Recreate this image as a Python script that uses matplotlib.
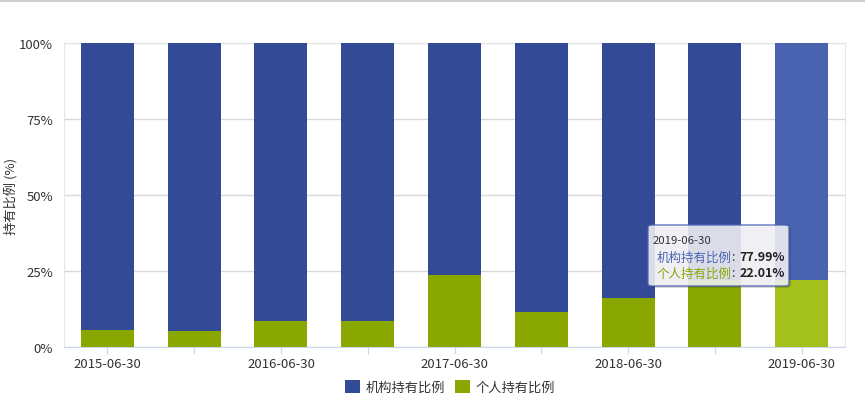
import matplotlib.pyplot as plt
from matplotlib.patches import FancyBboxPatch, Rectangle
import numpy as np

plt.rcParams['font.family'] = ['Noto Sans CJK SC', 'DejaVu Sans']

dates = ['2015-06-30', '2015-12-31', '2016-06-30', '2016-12-31', '2017-06-30',
         '2017-12-31', '2018-06-30', '2018-12-31', '2019-06-30']
personal = [5.6, 5.3, 8.6, 8.6, 23.7, 11.5, 16.1, 22.0, 22.01]
institution = [100 - p for p in personal]
institution[-1] = 77.99

blue = '#334a96'
green = '#8aa700'
blue_hi = '#4a63b0'
green_hi = '#a3c11a'

fig = plt.figure(figsize=(8.65, 4.02), dpi=100)
ax = fig.add_axes([64 / 865, 54 / 402, 781 / 865, 304 / 402])

x = np.arange(len(dates))
gc = [green] * (len(dates) - 1) + [green_hi]
bc = [blue] * (len(dates) - 1) + [blue_hi]
ax.bar(x, personal, width=0.61, color=gc, zorder=3, label='个人持有比例')
ax.bar(x, institution, width=0.61, bottom=personal, color=bc, zorder=3,
       label='机构持有比例')

ax.set_xlim(-0.5, len(dates) - 0.5)
ax.set_ylim(0, 100)
ax.set_yticks([0, 25, 50, 75, 100])
ax.set_yticklabels(['0%', '25%', '50%', '75%', '100%'])
ax.set_xticks(x)
ax.set_xticklabels([d if i % 2 == 0 else '' for i, d in enumerate(dates)])
ax.tick_params(axis='y', length=0, labelsize=9.5, colors='#333333', pad=8)
ax.tick_params(axis='x', length=5, color='#ccd6eb', labelsize=9.5,
               labelcolor='#333333', pad=2)
ax.grid(axis='y', color='#d8d8d8', linewidth=1, zorder=0)
for s in ['top', 'right', 'left']:
    ax.spines[s].set_color('#e6e6e6')
ax.spines['bottom'].set_color('#ccd6eb')
ax.set_ylabel('持有比例 (%)', fontsize=9.5, color='#333333', va='center')
ax.yaxis.set_label_coords(-(64 - 11) / 781, 0.5)

handles, labels = ax.get_legend_handles_labels()
leg = fig.legend(handles[::-1], labels[::-1], loc='center',
                 bbox_to_anchor=(450 / 865, 1 - 388 / 402),
                 ncol=2, frameon=False, fontsize=9.5, handlelength=1.1, handleheight=1.1,
                 columnspacing=0.8, handletextpad=0.4)
for t in leg.get_texts():
    t.set_color('#333333')

# top border line of the page
fig.add_artist(Rectangle((0, 1 - 3 / 402), 1, 2 / 402, transform=fig.transFigure,
                         color='#d0d0d0', lw=0))

# tooltip
x0, y0, x1, y1 = 648 / 865, 1 - 287 / 402, 789 / 865, 1 - 226 / 402
shadow = FancyBboxPatch((x0 + 2 / 865, y0 - 2 / 402), x1 - x0, y1 - y0,
                        boxstyle='round,pad=0,rounding_size=0.005',
                        transform=fig.transFigure, facecolor='#000000', alpha=0.15,
                        edgecolor='none', zorder=9)
box = FancyBboxPatch((x0, y0), x1 - x0, y1 - y0,
                     boxstyle='round,pad=0,rounding_size=0.005',
                     transform=fig.transFigure, facecolor='#f4f4f8', alpha=0.88,
                     edgecolor=blue_hi, linewidth=1, zorder=10)
fig.add_artist(shadow)
fig.add_artist(box)
fig.text(653 / 865, 1 - 241 / 402, '2019-06-30', fontsize=8.2, color='#333333',
         va='center', zorder=11)

renderer = fig.canvas.get_renderer()
rows = [('机构持有比例', '77.99%', blue_hi, 258), ('个人持有比例', '22.01%', green, 274)]
for lab, val, col, yy in rows:
    t = fig.text(657 / 865, 1 - yy / 402, lab, fontsize=9, color=col,
                 va='center', zorder=11)
    bb = t.get_window_extent(renderer)
    t2 = fig.text(bb.x1 / 865, 1 - yy / 402, ': ', fontsize=9, color='#333333',
                  va='center', zorder=11)
    bb2 = t2.get_window_extent(renderer)
    fig.text(bb2.x1 / 865 + 1 / 865, 1 - yy / 402, val, fontsize=9, color='#222222',
             fontweight='bold', va='center', zorder=11)

fig.savefig('out.png', dpi=100)
